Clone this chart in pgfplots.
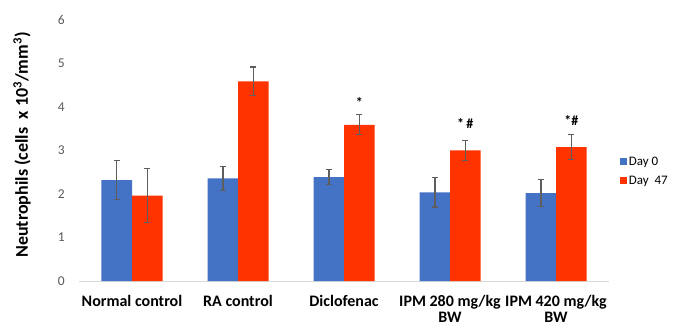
\documentclass[border=0pt]{standalone}
\usepackage{pgfplots}
\pgfplotsset{compat=1.18}
\usepackage{fontspec}
\setmainfont{Carlito}
\definecolor{cblue}{HTML}{4472C4}
\definecolor{cred}{HTML}{FF3300}
\definecolor{tickgray}{HTML}{595959}
\definecolor{errgray}{HTML}{5E5E5E}
\begin{document}
\begin{tikzpicture}
\useasboundingbox (0,0) rectangle (675bp,328bp);
\begin{axis}[
  at={(79bp,47bp)}, anchor=south west,
  scale only axis, width=530bp, height=261bp,
  ybar=0pt, bar width=30.5bp,
  xmin=-0.5, xmax=4.5, ymin=0, ymax=6,
  ytick={0,1,2,3,4,5,6},
  xtick={0,1,2,3,4},
  xticklabels={Normal control, RA control, Diclofenac, {IPM 280 mg/kg\\BW}, {IPM 420 mg/kg\\BW}},
  axis x line*=bottom, axis y line*=left,
  x axis line style={draw=black!15, line width=0.8bp, -},
  y axis line style={draw=none},
  major tick length=0pt,
  /pgf/number format/assume math mode=true,
  yticklabel style={font=\fontsize{13.5bp}{15bp}\selectfont, text=tickgray, anchor=east, inner sep=0pt, xshift=-14bp},
  xticklabel style={font=\fontsize{16bp}{16bp}\selectfont\bfseries, align=center, anchor=north, inner sep=0pt, yshift=-14bp},
  ylabel={Neutrophils (cells\ \ x 10\textsuperscript{3}/mm\textsuperscript{3})},
  ylabel style={font=\fontsize{18bp}{20bp}\selectfont\bfseries, at={(axis description cs:-0.1075,0.521)}, anchor=center},
  legend style={at={(axis description cs:1.02,0.42)}, anchor=west, draw=none, fill=none,
    font=\fontsize{13bp}{14bp}\selectfont, row sep=5bp, inner sep=0pt,
    /tikz/every even column/.append style={column sep=0pt}},
  legend cell align=left,
  legend image code/.code={\fill[#1] (0bp,-3.5bp) rectangle (7bp,3.5bp);},
  clip=false,
]
\addplot[fill=cblue, draw=none, bar shift=-15.25bp] coordinates {
  (0,2.32) (1,2.36) (2,2.39) (3,2.04) (4,2.02)
};
\addplot[fill=cred, draw=none, bar shift=15.25bp] coordinates {
  (0,1.96) (1,4.59) (2,3.59) (3,3.00) (4,3.08)
};
\legend{Day 0, Day\ \ 47}
\addplot[forget plot, draw=none, fill=none, bar shift=-15.25bp,
  error bars/y dir=both, error bars/y explicit,
  error bars/error bar style={draw=errgray, line width=1.5bp},
  error bars/error mark options={rotate=90, mark size=2.8bp, line width=1.2bp, draw=errgray}]
  coordinates {
  (0,2.32) +- (0,0.45)
  (1,2.36) +- (0,0.28)
  (2,2.39) +- (0,0.17)
  (3,2.04) +- (0,0.34)
  (4,2.02) +- (0,0.31)
};
\addplot[forget plot, draw=none, fill=none, bar shift=15.25bp,
  error bars/y dir=both, error bars/y explicit,
  error bars/error bar style={draw=errgray, line width=1.5bp},
  error bars/error mark options={rotate=90, mark size=2.8bp, line width=1.2bp, draw=errgray}]
  coordinates {
  (0,1.96) +- (0,0.62)
  (1,4.59) +- (0,0.33)
  (2,3.59) +- (0,0.23)
  (3,3.00) +- (0,0.23)
  (4,3.08) +- (0,0.28)
};
\node[font=\fontsize{14bp}{14bp}\selectfont\bfseries] at (axis cs:2.144,4.11) {*};
\node[font=\fontsize{14bp}{14bp}\selectfont\bfseries] at (axis cs:3.144,3.62) {*\,\#};
\node[font=\fontsize{14bp}{14bp}\selectfont\bfseries] at (axis cs:4.144,3.69) {*\#};
\end{axis}
\end{tikzpicture}
\end{document}
